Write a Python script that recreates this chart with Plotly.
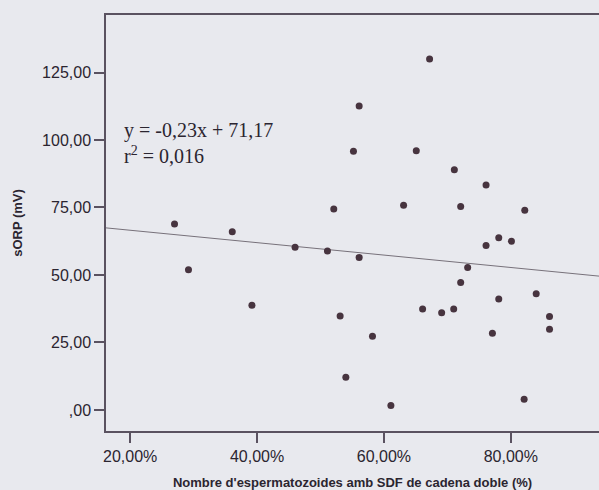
import plotly.graph_objects as go

# Data (x: % sperm with double-strand SDF, y: sORP in mV)
sdf_pct = [27.0, 36.1, 46.0, 67.2, 56.1, 55.2, 65.1, 71.1, 76.1, 52.1, 63.1, 72.1,
           82.2, 78.1, 80.1, 76.1, 51.1, 56.1, 73.2, 72.1, 84.0, 78.1, 53.1, 66.1,
           69.1, 71.0, 86.1, 86.1, 77.1, 58.2, 54.0, 82.1, 61.1, 29.2, 39.2]
sorp_mv = [68.9, 66.0, 60.3, 130.0, 112.6, 95.8, 96.0, 89.0, 83.3, 74.4, 75.8, 75.4,
           74.0, 63.8, 62.5, 60.9, 58.9, 56.5, 52.8, 47.2, 43.0, 41.1, 34.8, 37.4,
           36.0, 37.4, 34.6, 29.9, 28.4, 27.3, 12.1, 4.0, 1.6, 51.9, 38.8]

# Fitted line as printed on the chart
slope = -0.23
intercept = 71.17
x_range = [16.2, 93.9]
y_range = [-7.8, 146.3]

x_tick_vals = [20, 40, 60, 80]
x_tick_text = ["20,00%", "40,00%", "60,00%", "80,00%"]
y_tick_vals = [0, 25, 50, 75, 100, 125]
y_tick_text = [",00", "25,00", "50,00", "75,00", "100,00", "125,00"]

bg = "#e8e9ee"
ink = "#2b2530"
axis_col = "#5a5260"
dot_col = "#47343f"

fit_x = x_range
fit_y = [slope * v + intercept for v in fit_x]

fig = go.Figure()
fig.add_trace(go.Scatter(x=fit_x, y=fit_y, mode="lines",
                         line=dict(color="#77717a", width=1), hoverinfo="skip",
                         showlegend=False))
fig.add_trace(go.Scatter(x=sdf_pct, y=sorp_mv, mode="markers",
                         marker=dict(color=dot_col, size=7), showlegend=False))

fig.add_annotation(x=18.7, y=103.7, xref="x", yref="y", text="y = -0,23x + 71,17",
                   showarrow=False, xanchor="left", yanchor="middle",
                   font=dict(family="Liberation Serif, Times New Roman, serif", size=20, color=ink))
fig.add_annotation(x=18.7, y=94.4, xref="x", yref="y", text="r<sup>2</sup> = 0,016",
                   showarrow=False, xanchor="left", yanchor="middle",
                   font=dict(family="Liberation Serif, Times New Roman, serif", size=20, color=ink))

fig.update_layout(
    width=599, height=490,
    margin=dict(l=106, r=0, t=15, b=59),
    paper_bgcolor=bg, plot_bgcolor=bg,
    font=dict(family="Liberation Sans, Arial, sans-serif", color=ink, size=16),
    xaxis=dict(range=x_range, tickvals=x_tick_vals, ticktext=x_tick_text,
               showgrid=False, zeroline=False, showline=True, linecolor=axis_col,
               linewidth=1.5, mirror=True, ticks="outside", ticklen=10,
               tickcolor=axis_col, tickwidth=1.5,
               tickfont=dict(size=16, color=ink),
               title=dict(text="<b>Nombre d'espermatozoides amb SDF de cadena doble (%)</b>",
                          font=dict(size=13, color=ink), standoff=14)),
    yaxis=dict(range=y_range, tickvals=y_tick_vals, ticktext=y_tick_text,
               showgrid=False, zeroline=False, showline=True, linecolor=axis_col,
               linewidth=1.5, ticks="outside", ticklen=10,
               tickcolor=axis_col, tickwidth=1.5,
               tickfont=dict(size=16, color=ink),
               title=dict(text="<b>sORP (mV)</b>", font=dict(size=13, color=ink),
                          standoff=17)),
)

fig.write_html("out.html", config={"displayModeBar": False},
               post_script="document.body.style.margin='0';document.body.style.background='%s';" % bg)
